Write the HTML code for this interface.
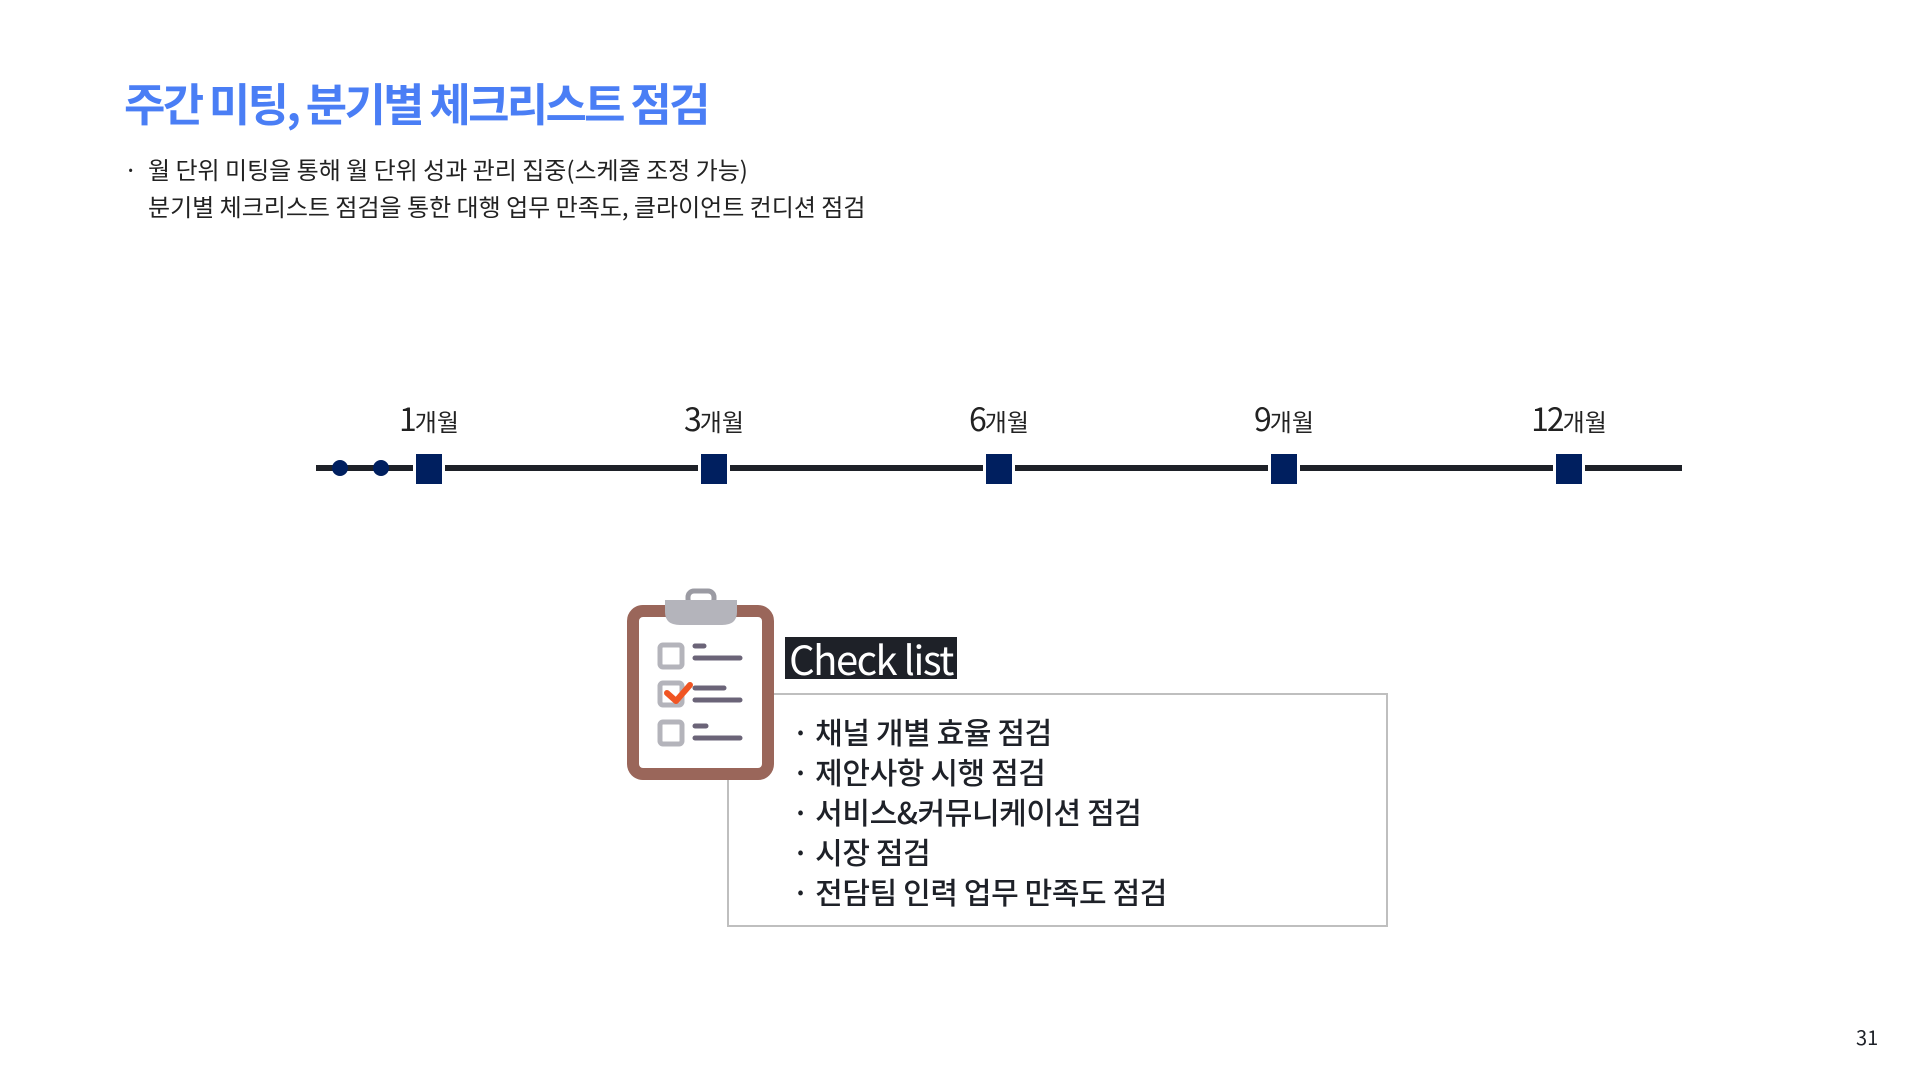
<!DOCTYPE html>
<html><head><meta charset="utf-8"><style>
body{margin:0;width:1920px;height:1080px;background:#fff;position:relative;overflow:hidden;font-family:"Noto Sans CJK KR",sans-serif;color:#1e2128}
.a{position:absolute;white-space:nowrap}
.sq{position:absolute;top:454px;width:26px;height:30px;background:#001f5f;box-shadow:0 0 0 3px #fff}
.lb{position:absolute;top:398px;width:120px;text-align:center;font-size:24px;color:#222;line-height:40px}
.lb b{font-weight:normal;font-size:32px;letter-spacing:-2px}
.dot{position:absolute;top:460px;width:16px;height:16px;border-radius:50%;background:#001f5f}
.it{font-size:30px;line-height:40px;letter-spacing:-0.4px;font-weight:500}
</style></head><body>
<div class="a" style="left:124px;top:72px;font-size:45px;line-height:60px;font-weight:bold;color:#4a7ef5;letter-spacing:-2.7px">주간 미팅, 분기별 체크리스트 점검</div>
<div class="a" style="left:124px;top:150px;font-size:24px;line-height:37px;color:#222">·</div>
<div class="a" style="left:148px;top:150px;font-size:24px;line-height:37px;color:#222">월 단위 미팅을 통해 월 단위 성과 관리 집중(스케줄 조정 가능)<br>분기별 체크리스트 점검을 통한 대행 업무 만족도, 클라이언트 컨디션 점검</div>

<div class="a" style="left:316px;top:465px;width:1366px;height:6px;background:#1e2128"></div>
<div class="dot" style="left:332px"></div><div class="dot" style="left:373px"></div>
<div class="sq" style="left:416px"></div><div class="sq" style="left:701px"></div><div class="sq" style="left:986px"></div><div class="sq" style="left:1271px"></div><div class="sq" style="left:1556px"></div>
<div class="lb" style="left:369px"><b>1</b>개월</div>
<div class="lb" style="left:654px"><b>3</b>개월</div>
<div class="lb" style="left:939px"><b>6</b>개월</div>
<div class="lb" style="left:1224px"><b>9</b>개월</div>
<div class="lb" style="left:1509px"><b>12</b>개월</div>

<div class="a" style="left:727px;top:693px;width:657px;height:230px;border:2px solid #bfbfbf"></div>
<svg class="a" style="left:620px;top:585px" width="160" height="200" viewBox="620 585 160 200">
<rect x="633" y="611" width="135" height="163" rx="10" fill="#fff" stroke="#9a665a" stroke-width="12"/>
<rect x="688" y="591" width="26" height="14" rx="6" fill="none" stroke="#9b9ba3" stroke-width="5"/>
<path d="M665 600 H737 V612 Q737 625 722 625 H680 Q665 625 665 612 Z" fill="#b4b4bb"/>
<g fill="none" stroke="#b4b4bb" stroke-width="5"><rect x="660" y="645" width="22" height="22" rx="3"/><rect x="660" y="683" width="22" height="22" rx="3"/><rect x="660" y="722" width="22" height="22" rx="3"/></g>
<g stroke="#6b6478" stroke-width="5" stroke-linecap="round"><line x1="695" y1="646" x2="704" y2="646"/><line x1="695" y1="658" x2="740" y2="658"/><line x1="695" y1="688" x2="724" y2="688"/><line x1="695" y1="700" x2="740" y2="700"/><line x1="695" y1="726" x2="706" y2="726"/><line x1="695" y1="738" x2="740" y2="738"/></g>
<path d="M667 693 L676 701 L690 685" fill="none" stroke="#f05523" stroke-width="6" stroke-linecap="round" stroke-linejoin="round"/>
</svg>
<div class="a" style="left:785px;top:637px;width:172px;height:42px;background:#1e2128;color:#fff;font-size:40px;line-height:42px;letter-spacing:-1.5px;text-align:center">Check list</div>
<div class="a it" style="left:792px;top:711px">· 채널 개별 효율 점검<br>· 제안사항 시행 점검<br>· 서비스&amp;커뮤니케이션 점검<br>· 시장 점검<br>· 전담팀 인력 업무 만족도 점검</div>
<div class="a" style="left:1856px;top:1022px;font-size:20px">31</div>
</body></html>
